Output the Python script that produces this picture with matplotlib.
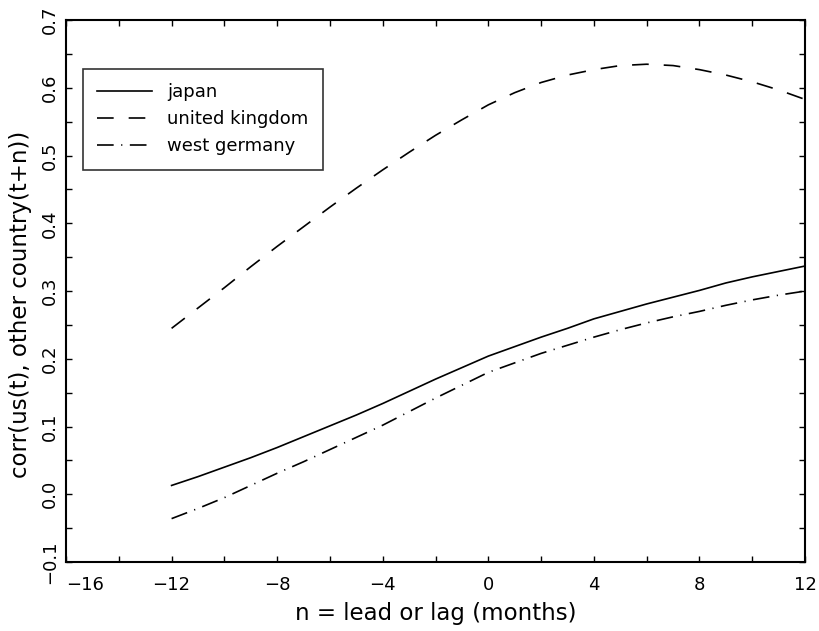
import matplotlib
matplotlib.use("Agg")
import matplotlib.pyplot as plt
from matplotlib.ticker import MultipleLocator, FuncFormatter

plt.rcParams['font.family'] = ['DejaVu Sans']

lags = [-12, -11, -10, -9, -8, -7, -6, -5, -4, -3, -2, -1, 0,
        1, 2, 3, 4, 5, 6, 7, 8, 9, 10, 11, 12]
japan = [0.013, 0.026, 0.040, 0.054, 0.069, 0.085, 0.101, 0.117, 0.134, 0.152, 0.170, 0.187, 0.204,
         0.218, 0.232, 0.245, 0.259, 0.270, 0.281, 0.291, 0.301, 0.312, 0.321, 0.329, 0.337]
united_kingdom = [0.245, 0.275, 0.305, 0.336, 0.366, 0.395, 0.424, 0.452, 0.479, 0.505, 0.530, 0.553, 0.575,
                  0.593, 0.608, 0.619, 0.627, 0.633, 0.635, 0.633, 0.627, 0.619, 0.609, 0.597, 0.583]
west_germany = [-0.036, -0.021, -0.005, 0.013, 0.031, 0.048, 0.066, 0.084, 0.102, 0.122, 0.142, 0.161, 0.180,
                0.194, 0.208, 0.220, 0.232, 0.243, 0.253, 0.262, 0.270, 0.279, 0.287, 0.294, 0.300]

fig = plt.figure(figsize=(8.19, 6.31), dpi=100)
ax = fig.add_axes([0.0806, 0.1094, 0.9024, 0.8586])

ax.plot(lags, japan, color='black', lw=1.2, label='japan')
ax.plot(lags, united_kingdom, color='black', lw=1.2, dashes=(10, 9), label='united kingdom')
ax.plot(lags, west_germany, color='black', lw=1.2, dashes=(10, 4.5, 0.7, 4.5), label='west germany')

ax.set_xlim(-16, 12)
ax.set_ylim(-0.1, 0.7)
ax.xaxis.set_major_locator(MultipleLocator(4))
ax.xaxis.set_minor_locator(MultipleLocator(2))
ax.yaxis.set_major_locator(MultipleLocator(0.1))
ax.yaxis.set_minor_locator(MultipleLocator(0.05))
ax.xaxis.set_major_formatter(FuncFormatter(lambda v, p: f"{v:.0f}".replace('-', '\u2212')))
ax.yaxis.set_major_formatter(FuncFormatter(lambda v, p: f"{v:.1f}".replace('-', '\u2212')))
ax.tick_params(which='both', direction='in', top=True, right=True, length=4, width=1,
               labelsize=13)
ax.tick_params(axis='y', pad=5)
ax.tick_params(axis='x', pad=10)
for s in ax.spines.values():
    s.set_linewidth(1.5)

ax.set_xlabel('n = lead or lag (months)', fontsize=16.5, labelpad=6)
ax.set_ylabel('corr(us(t), other country(t+n))', fontsize=16.5)
ax.yaxis.set_label_coords(-0.046, 0.475)

leg = ax.legend(loc='upper left', bbox_to_anchor=(0.023, 0.91), fontsize=13,
                frameon=True, fancybox=False, edgecolor='black', handlelength=3.0,
                borderpad=0.8, labelspacing=0.5, handletextpad=0.85, borderaxespad=0)
leg.get_frame().set_linewidth(1.2)

fig.canvas.draw()
for tick in ax.yaxis.get_major_ticks():
    tick.label1.set_rotation(90)
    tick.label1.set_va('center')
# leftmost x label sits just inside the axis, as in the original
for tick in ax.xaxis.get_major_ticks():
    if abs(tick.get_loc() + 16) < 1e-6:
        tick.label1.set_ha('left')

plt.savefig("out.png", dpi=100)
plt.close()
